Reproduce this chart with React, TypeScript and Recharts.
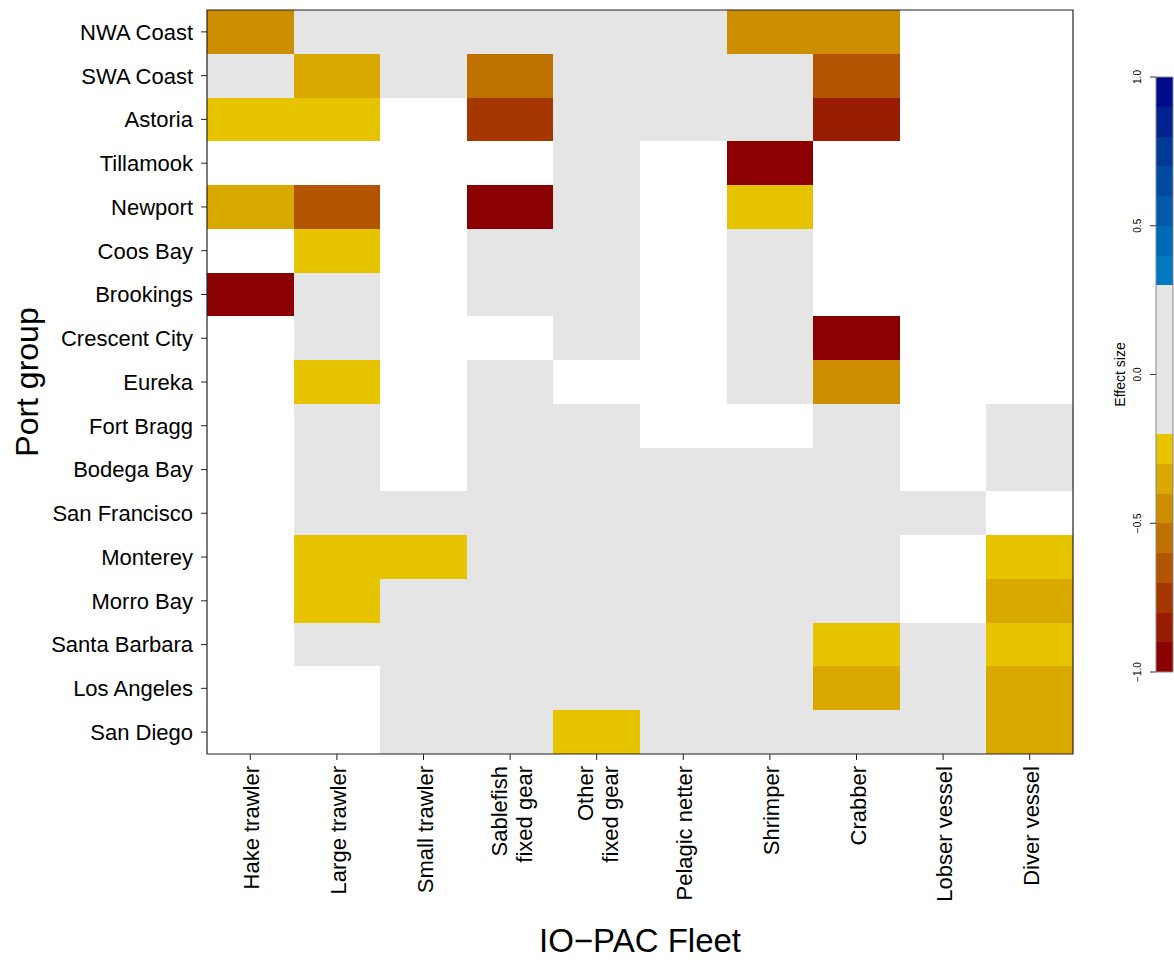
import React from 'react';
import { ScatterChart, Scatter, XAxis, YAxis, ReferenceArea } from 'recharts';

// fleets (columns) and port groups (rows, top to bottom)
const fleets = [
  'Hake trawler',
  'Large trawler',
  'Small trawler',
  'Sablefish\nfixed gear',
  'Other\nfixed gear',
  'Pelagic netter',
  'Shrimper',
  'Crabber',
  'Lobser vessel',
  'Diver vessel',
];

const ports = [
  'NWA Coast', 'SWA Coast', 'Astoria', 'Tillamook', 'Newport', 'Coos Bay',
  'Brookings', 'Crescent City', 'Eureka', 'Fort Bragg', 'Bodega Bay',
  'San Francisco', 'Monterey', 'Morro Bay', 'Santa Barbara', 'Los Angeles',
  'San Diego',
];

// effect size per port (row) and fleet (column); null = no data
const N = null;
const effects: (number | null)[][] = [
  [-0.45, 0, 0, 0, 0, 0, -0.45, -0.45, N, N],
  [0, -0.35, 0, -0.55, 0, 0, 0, -0.65, N, N],
  [-0.25, -0.25, N, -0.75, 0, 0, 0, -0.85, N, N],
  [N, N, N, N, 0, N, -0.95, N, N, N],
  [-0.35, -0.65, N, -0.95, 0, N, -0.25, N, N, N],
  [N, -0.25, N, 0, 0, N, 0, N, N, N],
  [-0.95, 0, N, 0, 0, N, 0, N, N, N],
  [N, 0, N, N, 0, N, 0, -0.95, N, N],
  [N, -0.25, N, 0, N, N, 0, -0.45, N, N],
  [N, 0, N, 0, 0, N, N, 0, N, 0],
  [N, 0, N, 0, 0, 0, 0, 0, N, 0],
  [N, 0, 0, 0, 0, 0, 0, 0, 0, N],
  [N, -0.25, -0.25, 0, 0, 0, 0, 0, N, -0.25],
  [N, -0.25, 0, 0, 0, 0, 0, 0, N, -0.35],
  [N, 0, 0, 0, 0, 0, 0, -0.25, 0, -0.25],
  [N, N, 0, 0, 0, 0, 0, -0.35, 0, -0.35],
  [N, N, 0, 0, -0.25, 0, 0, 0, 0, -0.35],
];

// colour key
const breaks = [-1.0, -0.9, -0.8, -0.7, -0.6, -0.5, -0.4, -0.3, -0.2, -0.1, 0.0,
  0.1, 0.2, 0.3, 0.4, 0.5, 0.6, 0.7, 0.8, 0.9, 1.0];
const binColors = [
  '#8B0000', '#981C00', '#A53800', '#B25400', '#BF7100', '#CC8D00', '#D9A900', '#E6C500',
  '#E5E5E5', '#E5E5E5', '#E5E5E5', '#E5E5E5', '#E5E5E5',
  '#0079BF', '#006AB4', '#005AAA', '#004AA0', '#003A97', '#00228F', '#000B8B',
];
const keyTicks = [-1, -0.5, 0, 0.5, 1];
const keyLabels = ['\u22121.0', '\u22120.5', '0.0', '0.5', '1.0'];

const font = '"Liberation Sans", Arial, Helvetica, sans-serif';

const colorFor = (v: number) => {
  for (let i = 0; i < binColors.length; i++) {
    if (v >= breaks[i] && v < breaks[i + 1]) return binColors[i];
  }
  return binColors[binColors.length - 1];
};

const cells: { x: number; y: number; v: number }[] = [];
effects.forEach((row, r) =>
  row.forEach((v, c) => {
    if (v !== null) cells.push({ x: c + 0.5, y: r + 0.5, v });
  })
);

const FleetTick = (props: any) => {
  const { x, y, payload } = props;
  const lines = fleets[Math.round(payload.value - 0.5)].split('\n');
  return (
    <g transform={`translate(${x},${y}) rotate(-90)`}>
      {lines.map((l, i) => (
        <text key={i} x={0} y={9 + (i - (lines.length - 1) / 2) * 25} textAnchor="end"
          fontSize={22} fontFamily={font} fill="#000">
          {l}
        </text>
      ))}
    </g>
  );
};

const PortTick = (props: any) => {
  const { x, y, payload } = props;
  return (
    <text x={x} y={y} dy={7.9} textAnchor="end" fontSize={22} fontFamily={font} fill="#000">
      {ports[Math.round(payload.value - 0.5)]}
    </text>
  );
};

const KeyTick = (props: any) => {
  const { x, y, payload } = props;
  return (
    <g transform={`translate(${x},${y}) rotate(-90)`}>
      <text x={0} y={0} textAnchor="middle" fontSize={10} fontFamily={font} fill="#000">
        {keyLabels[keyTicks.indexOf(payload.value)]}
      </text>
    </g>
  );
};

const App = () => {
  const xTicks = fleets.map((_, i) => i + 0.5);
  const yTicks = ports.map((_, i) => i + 0.5);
  return (
    <div style={{ position: 'absolute', left: 0, top: 0, width: 1174, height: 960, background: '#fff' }}>
      <div style={{ position: 'absolute', left: 0, top: 0 }}>
        <ScatterChart width={1080} height={960} margin={{ top: 10, right: 7, bottom: 0, left: 0 }}>
          <XAxis
            type="number"
            dataKey="x"
            domain={[0, fleets.length]}
            ticks={xTicks}
            interval={0}
            height={206}
            tickSize={6}
            tickMargin={6}
            axisLine={false}
            tickLine={{ stroke: '#222' }}
            tick={<FleetTick />}
            label={{
              content: ({ viewBox }: any) => (
                <text x={viewBox.x + viewBox.width / 2} y={viewBox.y + 198} textAnchor="middle"
                  fontSize={33} fontFamily={font} fill="#000">
                  IO{'\u2212'}PAC Fleet
                </text>
              ),
            }}
          />
          <YAxis
            type="number"
            dataKey="y"
            domain={[0, ports.length]}
            reversed
            ticks={yTicks}
            interval={0}
            width={207}
            tickSize={6}
            tickMargin={8}
            axisLine={false}
            tickLine={{ stroke: '#222' }}
            tick={<PortTick />}
            label={{
              content: ({ viewBox }: any) => (
                <g transform={`translate(${viewBox.x + 38},${viewBox.y + viewBox.height / 2}) rotate(-90)`}>
                  <text x={0} y={0} textAnchor="middle" fontSize={32} fontFamily={font} fill="#000">
                    Port group
                  </text>
                </g>
              ),
            }}
          />
          {cells.map((c, i) => (
            <ReferenceArea
              key={i}
              x1={c.x - 0.5}
              x2={c.x + 0.5}
              y1={c.y - 0.5}
              y2={c.y + 0.5}
              fill={colorFor(c.v)}
              fillOpacity={1}
              stroke="none"
              shapeRendering="crispEdges"
            />
          ))}
          <Scatter data={cells} fill="none" shape={() => <g />} isAnimationActive={false} />
          <ReferenceArea x1={0} x2={fleets.length} y1={0} y2={ports.length}
            fill="none" fillOpacity={0} stroke="#222" strokeWidth={1.2} />
        </ScatterChart>
      </div>

      <div style={{ position: 'absolute', left: 1000, top: 0 }}>
        <ScatterChart width={174} height={960} margin={{ top: 77, right: 1, bottom: 288, left: 0 }}>
          <XAxis type="number" dataKey="x" domain={[0, 1]} hide />
          <YAxis
            type="number"
            dataKey="y"
            domain={[-1, 1]}
            ticks={keyTicks}
            interval={0}
            width={156}
            tickSize={6}
            tickMargin={8.7}
            axisLine={false}
            tickLine={{ stroke: '#333' }}
            tick={<KeyTick />}
            label={{
              content: ({ viewBox }: any) => (
                <g transform={`translate(${viewBox.x + 125},${viewBox.y + viewBox.height / 2}) rotate(-90)`}>
                  <text x={0} y={0} textAnchor="middle" fontSize={14} fontFamily={font} fill="#000">
                    Effect size
                  </text>
                </g>
              ),
            }}
          />
          {binColors.map((col, i) => (
            <ReferenceArea
              key={i}
              x1={0}
              x2={1}
              y1={breaks[i]}
              y2={breaks[i + 1]}
              fill={col}
              fillOpacity={1}
              stroke="none"
              shapeRendering="crispEdges"
            />
          ))}
          <Scatter data={[{ x: 0.5, y: 0 }]} fill="none" shape={() => <g />} isAnimationActive={false} />
          <ReferenceArea x1={0} x2={1} y1={-1} y2={1} fill="none" fillOpacity={0} stroke="#888" strokeWidth={1} />
        </ScatterChart>
      </div>
    </div>
  );
};

export default App;
